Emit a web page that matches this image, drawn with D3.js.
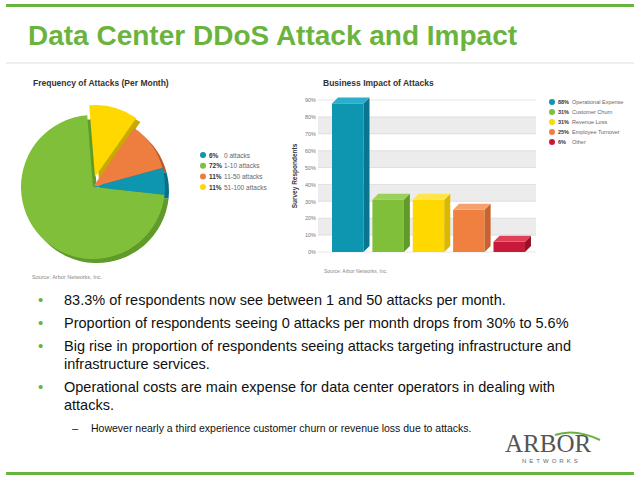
<!DOCTYPE html><html><head><meta charset="utf-8"><script src="https://d3js.org/d3.v7.min.js"></script>
<style>body{margin:0;background:#fff}svg{display:block;font-family:Arial,"Liberation Sans",sans-serif}</style></head><body>
<svg id="c" width="640" height="482"></svg>
<script>
const pieLabels=["51-100 attacks","11-50 attacks","0 attacks","1-10 attacks"];
const pieValues=[11,11,6,72];
const pieColors=["#ffd800","#ee7d40","#0e95b0","#7fbf3a"];
const pieShade=["#c9a800","#b85a2a","#0a6f85","#5f9a2a"];
const legendOrder=[2,3,1,0];
const barCats=["Operational Expense","Customer Churn","Revenue Loss","Employee Turnover","Other"];
const barValues=[88,31,31,25,6];
const barColors=["#0e95b0","#7fbf3a","#ffd800","#f08040","#c8193a"];
const barSide=["#0a7590","#5f9a2a","#d9b800","#c8622e","#9a1028"];
const barTop=["#2aaecc","#9dd05a","#ffe44a","#f6a070","#e04058"];
const yTicks=[0,10,20,30,40,50,60,70,80,90];
const bullets=["83.3% of respondents now see between 1 and 50 attacks per month.","Proportion of respondents seeing 0 attacks per month drops from 30% to 5.6%","Big rise in proportion of respondents seeing attacks targeting infrastructure and|infrastructure services.","Operational costs are main expense for data center operators in dealing with|attacks."];
const subBullet="However nearly a third experience customer churn or revenue loss due to attacks.";

const svg=d3.select("#c");
const G="#6ab43e";
svg.append("rect").attr("x",6).attr("y",4).attr("width",628).attr("height",3).attr("fill",G);
svg.append("rect").attr("x",6).attr("y",472).attr("width",628).attr("height",3).attr("fill",G);
svg.append("text").attr("x",28).attr("y",45).attr("fill",G).attr("font-size",28).attr("font-weight","bold").text("Data Center DDoS Attack and Impact");
svg.append("line").attr("x1",6).attr("x2",634).attr("y1",63).attr("y2",63).attr("stroke","#ddd");

// Pie
svg.append("text").attr("x",33).attr("y",86).attr("font-size",8.5).attr("font-weight","bold").attr("fill","#333").text("Frequency of Attacks (Per Month)");
const pie=d3.pie().sort(null).startAngle(-0.08).endAngle(2*Math.PI-0.08)(pieValues);
const arc=d3.arc().innerRadius(0).outerRadius(72);
const pg=svg.append("g").attr("transform","translate(93,187)");
pie.forEach((d,i)=>{
  const ex=i===0?[2,-10]:[0,0];
  pg.append("path").attr("d",arc(d)).attr("fill",pieShade[i]).attr("transform",`translate(${ex[0]+4},${ex[1]+4})`);
});
pie.forEach((d,i)=>{
  const ex=i===0?[2,-10]:[0,0];
  pg.append("path").attr("d",arc(d)).attr("fill",pieColors[i]).attr("transform",`translate(${ex[0]},${ex[1]})`);
});
legendOrder.forEach((k,j)=>{
  const y=155+j*10.7;
  svg.append("circle").attr("cx",203).attr("cy",y).attr("r",3).attr("fill",pieColors[k]);
  svg.append("text").attr("x",209).attr("y",y+2.5).attr("font-size",6.5).attr("font-weight","bold").attr("fill","#333").text(pieValues[k]+"%");
  svg.append("text").attr("x",224).attr("y",y+2.5).attr("font-size",6.5).attr("fill","#666").text(pieLabels[k]);
});
svg.append("text").attr("x",32).attr("y",279).attr("font-size",5.5).attr("fill","#888").text("Source: Arbor Networks, Inc.");

// Bar chart
svg.append("text").attr("x",323).attr("y",86).attr("font-size",8.5).attr("font-weight","bold").attr("fill","#333").text("Business Impact of Attacks");
const y=d3.scaleLinear().domain([0,90]).range([252,100]);
const x=d3.scaleBand().domain(barCats).range([330,527]).paddingInner(0.22).paddingOuter(0.05);
yTicks.forEach((t,i)=>{ if(i%2===1&&t<90) svg.append("rect").attr("x",318).attr("y",y(t+10)).attr("width",218).attr("height",y(t)-y(t+10)).attr("fill","#ececec");});
const ax=svg.append("g").attr("transform","translate(318,0)").call(d3.axisLeft(y).tickValues(yTicks).tickFormat(d=>d+"%").tickSize(0).tickPadding(2));
ax.select(".domain").remove();
ax.selectAll("text").attr("font-size",5.5).attr("fill","#777").attr("font-family","Arial");
yTicks.forEach(t=>svg.append("line").attr("x1",318).attr("x2",536).attr("y1",y(t)).attr("y2",y(t)).attr("stroke","#ccc").attr("stroke-width",0.5));
svg.append("text").attr("transform","translate(297,176) rotate(-90)").attr("text-anchor","middle").attr("font-size",6.5).attr("font-weight","bold").attr("fill","#333").text("Survey Respondents");
const dx=6,dy=6;
barCats.forEach((c,i)=>{
  const x0=x(c),w=x.bandwidth(),yt=y(barValues[i]),yb=y(0);
  svg.append("rect").attr("x",x0).attr("y",yt).attr("width",w).attr("height",yb-yt).attr("fill",barColors[i]);
  svg.append("path").attr("d",`M${x0+w},${yt}L${x0+w+dx},${yt-dy}L${x0+w+dx},${yb-dy}L${x0+w},${yb}Z`).attr("fill",barSide[i]);
  svg.append("path").attr("d",`M${x0},${yt}L${x0+dx},${yt-dy}L${x0+w+dx},${yt-dy}L${x0+w},${yt}Z`).attr("fill",barTop[i]);
});
barCats.forEach((c,i)=>{
  const yy=102+i*10;
  svg.append("circle").attr("cx",552).attr("cy",yy).attr("r",3).attr("fill",barColors[i]);
  svg.append("text").attr("x",558).attr("y",yy+2.3).attr("font-size",5.5).attr("font-weight","bold").attr("fill","#333").text(barValues[i]+"%");
  svg.append("text").attr("x",572).attr("y",yy+2.3).attr("font-size",5.5).attr("fill","#666").text(c);
});
svg.append("text").attr("x",324).attr("y",273).attr("font-size",5).attr("fill","#888").text("Source: Arbor Networks, Inc.");

// Bullets
let by=305;
bullets.forEach(b=>{
  svg.append("text").attr("x",38).attr("y",by).attr("font-size",15).attr("fill",G).text("•");
  b.split("|").forEach((ln,k)=>{
    svg.append("text").attr("x",64).attr("y",by+k*18).attr("font-size",14.5).attr("fill","#111").text(ln);
  });
  by+=b.split("|").length*18+5;
});
svg.append("text").attr("x",72).attr("y",by-1).attr("font-size",11).attr("fill","#111").text("–");
svg.append("text").attr("x",91).attr("y",by-1).attr("font-size",10.5).attr("fill","#111").text(subBullet);

// Logo
svg.append("text").attr("x",505).attr("y",452).attr("font-family","Liberation Serif,serif").attr("font-size",25).attr("fill","#555").text("ARBOR");
svg.append("path").attr("d","M555,435 Q575,428 600,440").attr("fill","none").attr("stroke",G).attr("stroke-width",2);
svg.append("text").attr("x",522).attr("y",463).attr("font-size",6).attr("letter-spacing",3).attr("fill","#666").text("NETWORKS");
</script></body></html>
